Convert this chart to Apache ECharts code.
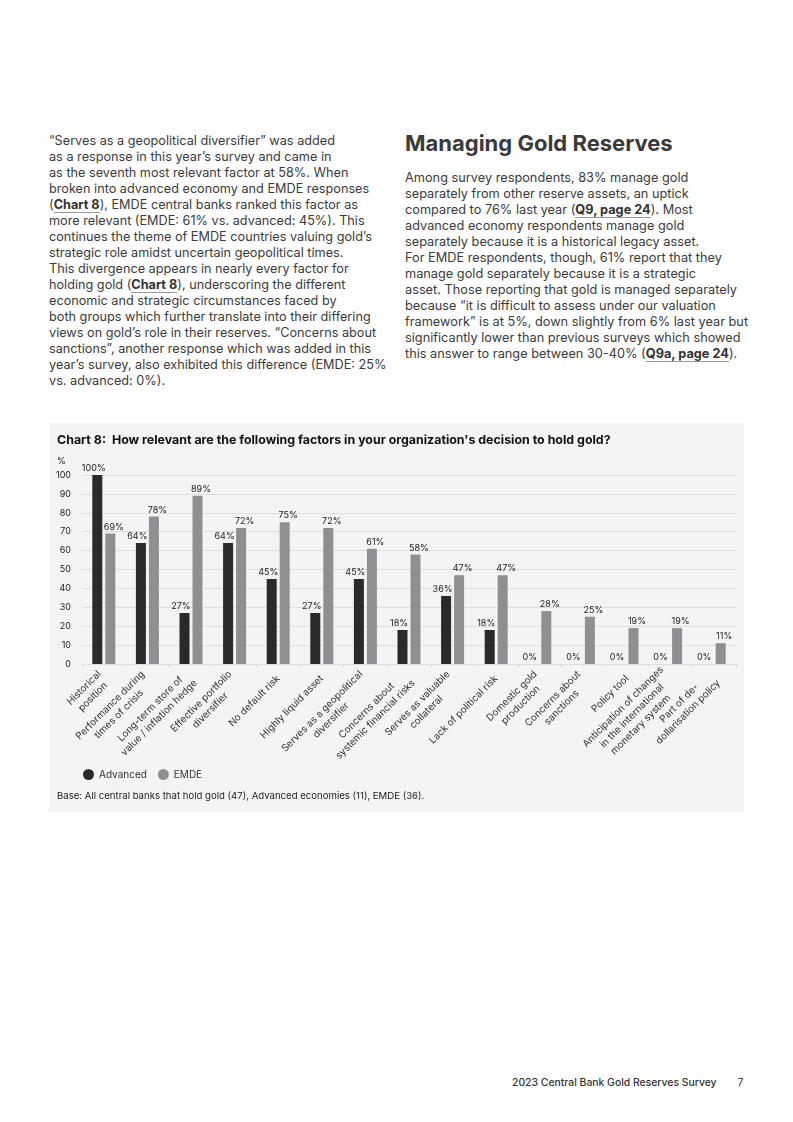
<!DOCTYPE html>
<html>
<head>
<meta charset="utf-8">
<script src="https://cdn.jsdelivr.net/npm/echarts@6/dist/echarts.min.js"></script>
<style>
  html, body { margin:0; padding:0; background:#fff; }
  body { width:793px; height:1122px; position:relative; font-family: Inter, "Open Sans", sans-serif; color:#3a3a3a; }
  .col { position:absolute; font-size:12.7px; line-height:16px; white-space:nowrap; color:#3b3b3b; }
  #left { left:49px; top:133px; }
  #right { left:405px; top:170px; font-size:12.75px; }
  h2 { position:absolute; left:405px; top:130px; margin:0; font-size:22px; font-weight:700; color:#3a3a3a; letter-spacing:0; white-space:nowrap; }
  b.lnk { font-weight:700; color:#333; border-bottom:1px solid #999; }
  #chart { position:absolute; left:49px; top:423px; width:695px; height:389px; }
  #footer { position:absolute; left:512px; top:1076px; font-size:10.4px; font-weight:500; color:#333; white-space:nowrap; }
  #footer span { font-weight:400; margin-left:21px; }
</style>
</head>
<body>
<div id="left" class="col">“Serves as a geopolitical diversifier” was added<br>as a response in this year’s survey and came in<br>as the seventh most relevant factor at 58%. When<br>broken into advanced economy and EMDE responses<br>(<b class="lnk">Chart 8</b>), EMDE central banks ranked this factor as<br>more relevant (EMDE: 61% vs. advanced: 45%). This<br>continues the theme of EMDE countries valuing gold’s<br>strategic role amidst uncertain geopolitical times.<br>This divergence appears in nearly every factor for<br>holding gold (<b class="lnk">Chart 8</b>), underscoring the different<br>economic and strategic circumstances faced by<br>both groups which further translate into their differing<br>views on gold’s role in their reserves. “Concerns about<br>sanctions”, another response which was added in this<br>year’s survey, also exhibited this difference (EMDE: 25%<br>vs. advanced: 0%).</div>
<h2>Managing Gold Reserves</h2>
<div id="right" class="col">Among survey respondents, 83% manage gold<br>separately from other reserve assets, an uptick<br>compared to 76% last year (<b class="lnk">Q9, page 24</b>). Most<br>advanced economy respondents manage gold<br>separately because it is a historical legacy asset.<br>For EMDE respondents, though, 61% report that they<br>manage gold separately because it is a strategic<br>asset. Those reporting that gold is managed separately<br>because “it is difficult to assess under our valuation<br>framework” is at 5%, down slightly from 6% last year but<br>significantly lower than previous surveys which showed<br>this answer to range between 30-40% (<b class="lnk">Q9a, page 24</b>).</div>
<div id="chart"></div>
<div id="footer">2023 Central Bank Gold Reserves Survey<span>7</span></div>
<script>
const categories = [
  "Historical\nposition",
  "Performance during\ntimes of crisis",
  "Long-term store of\nvalue / inflation hedge",
  "Effective portfolio\ndiversifier",
  "No default risk",
  "Highly liquid asset",
  "Serves as a geopolitical\ndiversifier",
  "Concerns about\nsystemic financial risks",
  "Serves as valuable\ncollateral",
  "Lack of political risk",
  "Domestic gold\nproduction",
  "Concerns about\nsanctions",
  "Policy tool",
  "Anticipation of changes\nin the international\nmonetary system",
  "Part of de-\ndollarisation policy"
];
const advanced = [100, 64, 27, 64, 45, 27, 45, 18, 36, 18, 0, 0, 0, 0, 0];
const emde = [69, 78, 89, 72, 75, 72, 61, 58, 47, 47, 28, 25, 19, 19, 11];
const seriesNames = ["Advanced", "EMDE"];
const chartTitle = "Chart 8:  How relevant are the following factors in your organization's decision to hold gold?";
const baseNote = "Base: All central banks that hold gold (47), Advanced economies (11), EMDE (36).";

const FONT = 'Inter, "Open Sans", sans-serif';
const chart = echarts.init(document.getElementById('chart'), null, {renderer: 'canvas'});
const valLabel = (dx) => ({ show: true, position: 'top', distance: 2, offset: [dx, 0], formatter: p => p.value + '%', fontSize: 9, color: '#222', fontFamily: FONT });
chart.setOption({
  animation: false,
  backgroundColor: '#f4f4f4',
  textStyle: { fontFamily: FONT },
  title: { text: chartTitle, left: 8, top: 11, padding: 0, textStyle: { fontSize: 12.4, fontWeight: 700, color: '#111', fontFamily: FONT } },
  graphic: [
    { type: 'text', left: 8, top: 34, style: { text: '%', fontSize: 9, fill: '#222', fontFamily: FONT } },
    { type: 'text', left: 8, top: 368, style: { text: baseNote, fontSize: 9.6, fill: '#222', fontFamily: FONT } }
  ],
  legend: {
    left: 29, top: 341, icon: 'circle', itemWidth: 11, itemHeight: 11, itemGap: 11,
    textStyle: { fontSize: 10, color: '#333', fontFamily: FONT },
    data: seriesNames
  },
  grid: { left: 33, right: 8, top: 52, bottom: 148 },
  xAxis: {
    type: 'category', data: categories,
    axisLine: { show: true, lineStyle: { color: '#dedede', width: 1 } },
    axisTick: { show: true, length: 3, lineStyle: { color: '#d8d8d8' } },
    axisLabel: {
      interval: 0, rotate: 45, margin: 13, fontSize: 9.8, color: '#333', fontFamily: FONT,
      formatter: v => v.split('\n').map(s => '{c|' + s + '}').join('\n'),
      rich: { c: { align: 'center', fontSize: 9.8, color: '#333', fontFamily: FONT, lineHeight: 12.5 } }
    }
  },
  yAxis: {
    type: 'value', min: 0, max: 100, interval: 10,
    axisLine: { show: false }, axisTick: { show: false },
    axisLabel: { fontSize: 9, color: '#222', margin: 11, fontFamily: FONT },
    splitLine: { lineStyle: { color: '#dedede', width: 1 } }
  },
  series: [
    { name: seriesNames[0], type: 'bar', z: 2, data: advanced, barWidth: 10, barGap: '30%', itemStyle: { color: '#2a2a2a' }, label: valLabel(-3.5) },
    { name: seriesNames[1], type: 'bar', z: 3, data: emde, barWidth: 10, itemStyle: { color: '#8f8f91' }, label: valLabel(3.5) }
  ]
});
</script>
</body>
</html>
